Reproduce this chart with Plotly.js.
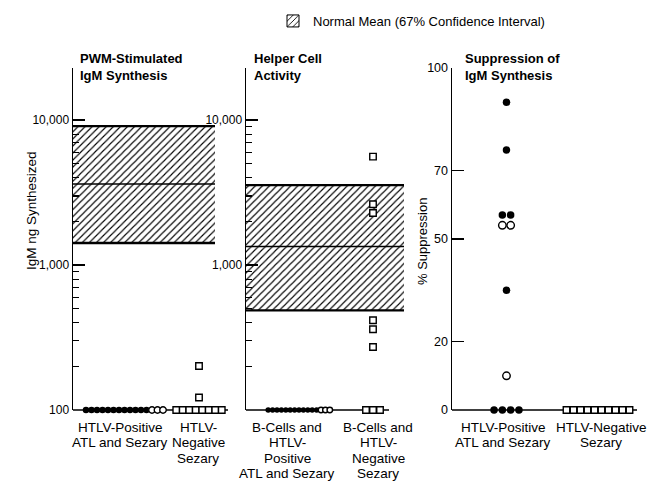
<!DOCTYPE html>
<html>
<head>
<meta charset="utf-8">
<script src="https://cdn.plot.ly/plotly-3.0.1.min.js"></script>
<style>html,body{margin:0;padding:0;background:#fff}</style>
</head>
<body>
<div id="chart" style="width:648px;height:481px"></div>
<script>
// ---------------- DATA ----------------
// Panel 1: PWM-stimulated IgM synthesis (ng), log scale
const p1Categories = ['HTLV-Positive<br>ATL and Sezary', 'HTLV-<br>Negative<br>Sezary'];
const p1PositiveFilled = [100, 100, 100, 100, 100, 100, 100, 100, 100, 100, 100, 100];
const p1PositiveOpen = [100, 100, 100];
const p1Negative = [100, 100, 100, 100, 100, 100, 100, 100, 201, 122];

// Panel 2: Helper cell activity (IgM ng), log scale
const p2Categories = ['B-Cells and<br>HTLV-<br>Positive<br>ATL and Sezary', 'B-Cells and<br>HTLV-<br>Negative<br>Sezary'];
const p2PositiveFilled = [100, 100, 100, 100, 100, 100, 100, 100, 100, 100, 100, 100];
const p2PositiveOpen = [100, 100, 100];
const p2Negative = [100, 100, 100, 5600, 2630, 2290, 416, 361, 272];

// Normal mean with 67% confidence interval (panel 1, panel 2)
const normalLow = [1420, 487];
const normalMean = [3620, 1345];
const normalHigh = [9100, 3560];
const legendLabel = 'Normal Mean (67% Confidence Interval)';

// Panel 3: % suppression of IgM synthesis
const p3Categories = ['HTLV-Positive<br>ATL and Sezary', 'HTLV-Negative<br>Sezary'];
const p3PositiveFilled = [90, 76, 57, 57, 35, 0, 0, 0, 0];
const p3PositiveOpen = [54, 54, 10];
const p3Negative = [0, 0, 0, 0, 0, 0, 0, 0, 0, 0];

const logTicks = [100, 1000, 10000];
const logTickText1 = ['100', '1,000', '10,000'];
const logTickText2 = ['', '1,000', '10,000'];
const pctTicks = [0, 20, 50, 70, 100];

// ---------------- LAYOUT CONFIG (pixels) ----------------
const W = 648, TOP = 68, BOTTOM = 410;
const FONT = 'Liberation Sans, Arial, Helvetica, sans-serif';
const panels = [
  {axL: 73, axR: 228, bandR: 215, baseR: 228, centers: [124.5, 199], steps: [5.5, 6.5], labels: [120, 198], circ: 6.5},
  {axL: 246, axR: 404, bandR: 404, baseR: 389, centers: [299, 373], steps: [4.4, 7], labels: [287, 378], circ: 5.5},
  {axL: 452, axR: 638, baseR: 637, centers: [506.5, 598], steps: [8.3, 7], labels: [503, 601], circ: 7.5}
];
const hatch = {shape: '/', fgcolor: '#000', bgcolor: '#fff', size: 5, solidity: 0.22};

// spread equal values side by side around a centre
function spread(values, center, step) {
  const counts = {}, seen = {};
  values.forEach(v => counts[v] = (counts[v] || 0) + 1);
  return values.map(v => {
    const k = (seen[v] = (seen[v] || 0) + 1) - 1;
    return center + (k - (counts[v] - 1) / 2) * step;
  });
}

const traces = [];
const shapes = [];
function addGroup(pi, filled, open, axisSuffix) {
  const p = panels[pi];
  const xs = spread(filled.concat(open), p.centers[0], p.steps[0]);
  const xa = 'x' + axisSuffix, ya = 'y' + axisSuffix;
  traces.push({type: 'scatter', mode: 'markers', x: xs.slice(0, filled.length), y: filled,
    xaxis: xa, yaxis: ya, cliponaxis: false, showlegend: false,
    marker: {symbol: 'circle', size: p.circ, color: '#000', line: {width: 0}}});
  traces.push({type: 'scatter', mode: 'markers', x: xs.slice(filled.length), y: open,
    xaxis: xa, yaxis: ya, cliponaxis: false, showlegend: false,
    marker: {symbol: 'circle', size: p.circ, color: '#fff', line: {width: 1.4, color: '#000'}}});
}
function addSquares(pi, values, axisSuffix) {
  const p = panels[pi];
  const xs = spread(values, p.centers[1], p.steps[1]);
  traces.push({type: 'scatter', mode: 'markers', x: xs, y: values,
    xaxis: 'x' + axisSuffix, yaxis: 'y' + axisSuffix, cliponaxis: false, showlegend: false,
    marker: {symbol: 'square', size: 6.5, color: '#fff', line: {width: 1.4, color: '#000'}}});
}
function addBand(pi, axisSuffix) {
  const p = panels[pi];
  const xa = 'x' + axisSuffix, ya = 'y' + axisSuffix;
  traces.push({type: 'bar', x: [(p.axL + p.bandR) / 2], width: [p.bandR - p.axL],
    base: [normalLow[pi]], y: [normalHigh[pi] - normalLow[pi]],
    xaxis: xa, yaxis: ya, name: legendLabel, legendgroup: 'normal', showlegend: false,
    marker: {color: '#fff', line: {width: 0}, pattern: hatch}});
  [[normalHigh[pi], 2.4], [normalMean[pi], 1.5], [normalLow[pi], 2.4]].forEach(([v, w]) => {
    traces.push({type: 'scatter', mode: 'lines', x: [p.axL, p.bandR], y: [v, v],
      xaxis: xa, yaxis: ya, showlegend: false, line: {color: '#000', width: w}});
  });
}

addBand(0, '');
addBand(1, '2');
// legend entry for the hatched band (bordered swatch)
traces.push({type: 'bar', x: [null], y: [null], name: legendLabel, legendgroup: 'normal', showlegend: true,
  marker: {color: '#fff', line: {width: 1, color: '#000'}, pattern: hatch}});
addGroup(0, p1PositiveFilled, p1PositiveOpen, '');
addSquares(0, p1Negative, '');
addGroup(1, p2PositiveFilled, p2PositiveOpen, '2');
addSquares(1, p2Negative, '2');
addGroup(2, p3PositiveFilled, p3PositiveOpen, '3');
addSquares(2, p3Negative, '3');

// baselines
['', '2', '3'].forEach((s, i) => {
  const p = panels[i];
  shapes.push({type: 'line', xref: 'x' + s, yref: 'y' + s + ' domain', x0: p.axL, x1: p.baseR, y0: 0, y1: 0,
    line: {color: '#000', width: 1.5}, layer: 'below'});
});

const minorLog = [];
[100, 1000].forEach(d => { for (let m = 2; m <= 9; m++) minorLog.push(d * m); });

function xAxis(pi) {
  const p = panels[pi];
  return {domain: [p.axL / W, p.axR / W], range: [p.axL, p.axR], showgrid: false, zeroline: false,
    showline: false, ticks: '', showticklabels: false, fixedrange: true,
    anchor: pi === 0 ? 'y' : 'y' + (pi + 1)};
}
function logAxis(anchor, ticktext) {
  return {type: 'log', range: [2, 4.36], domain: [0, 1], anchor: anchor, showgrid: false, zeroline: false,
    showline: true, linecolor: '#000', linewidth: 1.5, ticks: 'inside', ticklen: 12, tickwidth: 1.5,
    tickcolor: '#000', tickmode: 'array', tickvals: logTicks, ticktext: ticktext,
    tickfont: {family: FONT, size: 12, color: '#000'},
    minor: {tickmode: 'array', tickvals: minorLog, ticks: 'inside', ticklen: 6, tickwidth: 1.2, tickcolor: '#000', showgrid: false},
    fixedrange: true};
}

const yp = px => (BOTTOM - px) / (BOTTOM - TOP);
const titleFont = {family: FONT, size: 13, color: '#000'};
const annotations = [
  {text: '<b>PWM-Stimulated</b><br><b>IgM Synthesis</b>', x: 78 / W, y: yp(49)},
  {text: '<b>Helper Cell</b><br><b>Activity</b>', x: 252 / W, y: yp(49)},
  {text: '<b>Suppression of</b><br><b>IgM Synthesis</b>', x: 463 / W, y: yp(49)}
].map(a => Object.assign({xref: 'paper', yref: 'paper', xanchor: 'left', yanchor: 'top', align: 'left',
  showarrow: false, font: titleFont}, a));
annotations.push({text: 'IgM ng Synthesized', xref: 'paper', yref: 'paper', x: 31 / W, y: yp(211),
  xanchor: 'center', yanchor: 'middle', textangle: -90, showarrow: false,
  font: {family: FONT, size: 13.5, color: '#000'}});
annotations.push({text: '% Suppression', xref: 'paper', yref: 'paper', x: 422 / W, y: yp(242),
  xanchor: 'center', yanchor: 'middle', textangle: -90, showarrow: false,
  font: {family: FONT, size: 13, color: '#000'}});

// category labels, one annotation per text line
[[p1Categories, 0], [p2Categories, 1], [p3Categories, 2]].forEach(([cats, pi]) => {
  cats.forEach((c, i) => c.split('<br>').forEach((line, j) => {
    annotations.push({text: line, xref: 'paper', yref: 'paper', x: panels[pi].labels[i] / W,
      y: yp(427 + j * 15.6), xanchor: 'center', yanchor: 'middle', showarrow: false,
      font: {family: FONT, size: 13.5, color: '#000'}});
  }));
});

const layout = {
  width: 648, height: 481,
  margin: {l: 0, r: 0, t: TOP, b: 481 - BOTTOM},
  paper_bgcolor: '#fff', plot_bgcolor: 'rgba(0,0,0,0)',
  hovermode: false, barmode: 'overlay', bargap: 0,
  font: {family: FONT, color: '#000'},
  showlegend: true,
  legend: {x: 273 / W, xanchor: 'left', y: yp(6), yanchor: 'top', bgcolor: 'rgba(0,0,0,0)',
    font: {family: FONT, size: 13, color: '#000'}, itemwidth: 30},
  xaxis: xAxis(0),
  xaxis2: xAxis(1),
  xaxis3: xAxis(2),
  yaxis: logAxis('x', logTickText1),
  yaxis2: logAxis('x2', logTickText2),
  yaxis3: {range: [0, 100], domain: [0, 1], anchor: 'x3', showgrid: false, zeroline: false,
    showline: true, linecolor: '#000', linewidth: 1.5, ticks: 'inside', ticklen: 12, tickwidth: 1.5,
    tickcolor: '#000', tickmode: 'array', tickvals: pctTicks,
    tickfont: {family: FONT, size: 12.5, color: '#000'}, fixedrange: true},
  shapes: shapes,
  annotations: annotations
};

Plotly.newPlot('chart', traces, layout, {displayModeBar: false, staticPlot: true});
</script>
</body>
</html>
